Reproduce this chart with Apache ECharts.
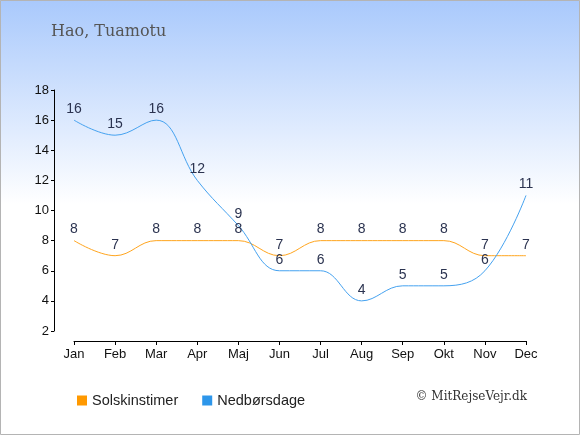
<!DOCTYPE html>
<html><head><meta charset="utf-8">
<script src="https://cdn.jsdelivr.net/npm/echarts@6/dist/echarts.min.js"></script>
<style>html,body{margin:0;padding:0;}#c{width:580px;height:435px;}</style>
</head><body><div id="c"></div>
<script>
const months = ['Jan','Feb','Mar','Apr','Maj','Jun','Jul','Aug','Sep','Okt','Nov','Dec'];
const solskinstimer = [8,7,8,8,8,7,8,8,8,8,7,7];
const nedboersdage = [16,15,16,12,9,6,6,4,5,5,6,11];
const yTicks = {min:2, max:18, interval:2};

const chart = echarts.init(document.getElementById('c'), null, {renderer:'canvas'});
const lbl = {show:true, position:'top', distance:4, color:'#2b3350', fontSize:14, fontFamily:'Liberation Sans, Arial, sans-serif'};
chart.setOption({
  backgroundColor: {type:'linear', x:0, y:0, x2:0, y2:1, colorStops:[
    {offset:0, color:'#a9c9fc'}, {offset:0.47, color:'#ffffff'}, {offset:1, color:'#ffffff'}]},
  animation:false,
  grid:{left:74, right:54, top:90, bottom:104},
  xAxis:{type:'category', data:months, boundaryGap:false, offset:10,
    axisLine:{lineStyle:{color:'#000', width:1}},
    axisTick:{show:true, alignWithLabel:true, length:4, lineStyle:{color:'#000'}},
    axisLabel:{color:'#111', fontSize:13, fontFamily:'Liberation Sans, Arial, sans-serif', margin:7},
    splitLine:{show:false}},
  yAxis:{type:'value', min:yTicks.min, max:yTicks.max, interval:yTicks.interval, offset:20,
    axisLine:{show:true, lineStyle:{color:'#000', width:1}},
    axisTick:{show:true, length:3, lineStyle:{color:'#000'}},
    axisLabel:{color:'#111', fontSize:13, fontFamily:'Liberation Sans, Arial, sans-serif', margin:5},
    splitLine:{show:false}},
  legend:{left:72, top:388, itemWidth:10, itemHeight:10, itemGap:24, icon:'rect',
    textStyle:{fontSize:14.5, color:'#222', fontFamily:'Liberation Sans, Arial, sans-serif'},
    data:[{name:'Solskinstimer', itemStyle:{color:'#ff9900', opacity:1}},{name:'Nedbørsdage', itemStyle:{color:'#2d96ea', opacity:1}}]},
  graphic:[
    {type:'rect', shape:{x:0.5, y:0.5, width:579, height:434}, style:{fill:'none', stroke:'#b4b4b4', lineWidth:1}, z:100},
    {type:'text', left:51, top:24, style:{text:'Hao, Tuamotu', fontSize:16, fill:'#555', fontFamily:'DejaVu Serif, serif'}},
    {type:'text', right:53, top:391, style:{text:'© MitRejseVejr.dk', fontSize:12, fill:'#333', fontFamily:'DejaVu Serif, serif'}}
  ],
  series:[
    {name:'Solskinstimer', type:'line', data:solskinstimer, smooth:0.4, showSymbol:true, symbol:'circle', symbolSize:0,
      lineStyle:{color:'#ffa51e', width:1}, itemStyle:{color:'#ff9900'}, label:lbl},
    {name:'Nedbørsdage', type:'line', data:nedboersdage, smooth:0.4, showSymbol:true, symbol:'circle', symbolSize:0,
      lineStyle:{color:'#45a2f0', width:1}, itemStyle:{color:'#2d96ea'}, label:lbl}
  ]
});
</script></body></html>
